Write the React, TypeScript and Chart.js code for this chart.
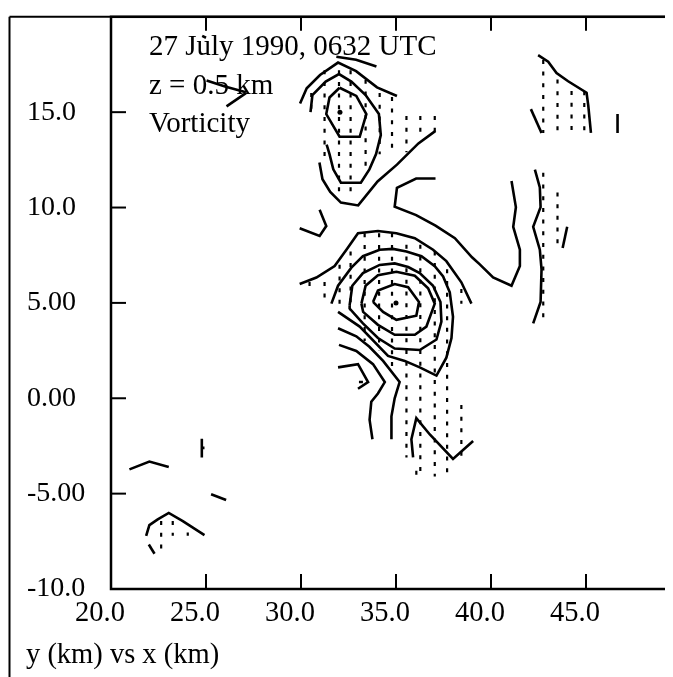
import { useEffect, useRef } from 'react';
import { Chart, registerables } from 'chart.js';

Chart.register(...registerables);

type Pt = [number, number];

// Axis ticks
const xTickValues = [20, 25, 30, 35, 40, 45];
const xTickLabels = ['20.0', '25.0', '30.0', '35.0', '40.0', '45.0'];
const yTickValues = [-10, -5, 0, 5, 10, 15];
const yTickLabels = ['-10.0', '-5.00', '0.00', '5.00', '10.0', '15.0'];

const titleLines = ['27 July 1990, 0632 UTC', 'z = 0.5 km', 'Vorticity'];
const axisCaption = 'y (km) vs x (km)';

// Northern vortex contours (x km, y km)
const northCore: Pt[] = [[32.03, 16.28], [32.91, 15.85], [33.44, 14.9], [33.09, 13.71], [32.03, 13.71], [31.33, 14.9], [31.5, 15.77], [32.03, 16.28]];
const northRing: Pt[] = [[30.5, 15.0], [30.6, 15.9], [31.3, 16.6], [32.0, 17.0], [32.65, 16.6], [33.4, 15.9], [34.1, 14.9], [34.2, 13.8], [33.95, 12.8], [33.6, 12.0], [33.15, 11.3], [32.1, 11.3], [31.7, 12.0], [31.5, 12.8], [31.35, 13.3]];
const northOuter: Pt[] = [[29.95, 15.45], [30.3, 16.25], [31.0, 16.95], [31.95, 17.6], [32.9, 17.15], [34.0, 16.3], [35.05, 15.85]];
const northSlash: Pt[] = [[31.86, 17.91], [32.9, 17.75], [33.97, 17.39]];
const northTrough: Pt[] = [[30.97, 12.36], [31.13, 11.48], [31.54, 10.82], [32.1, 10.26], [33.01, 10.11], [34.03, 11.37], [35.05, 12.25], [36.18, 13.36], [37.08, 14.02]];

// Saddle between the two vortices
const saddle: Pt[] = [[37.08, 11.52], [36.06, 11.52], [35.05, 11.03], [34.93, 10.04], [36.06, 9.6], [37.08, 9.05], [38.1, 8.39], [39.0, 7.39], [39.41, 7.02], [40.11, 6.33], [41.08, 5.9], [41.52, 6.93], [41.52, 7.79], [41.17, 8.99], [41.31, 10.02], [41.08, 11.39]];
const westHook: Pt[] = [[29.93, 8.91], [30.98, 8.51], [31.33, 9.03], [30.98, 9.88]];

// Central vortex
const coreRing1: Pt[] = [[33.79, 5.05], [34.05, 5.65], [34.93, 5.99], [35.64, 5.82], [36.21, 5.05], [36.07, 4.33], [35.02, 4.11], [34.32, 4.53], [33.79, 5.05]];
const coreRing2: Pt[] = [[33.18, 4.96], [33.4, 5.9], [34.05, 6.45], [35.02, 6.63], [35.99, 6.42], [36.69, 5.77], [37.04, 4.96], [36.6, 3.76], [35.99, 3.33], [34.93, 3.33], [34.05, 3.85], [33.27, 4.53], [33.18, 4.96]];
const coreRing3: Pt[] = [[32.56, 4.88], [32.7, 5.9], [33.26, 6.56], [34.14, 6.99], [34.93, 7.07], [35.64, 6.88], [36.25, 6.56], [36.95, 5.9], [37.34, 5.05], [37.39, 4.02], [37.13, 3.08], [36.25, 2.53], [34.93, 2.61], [34.05, 3.16], [33.26, 3.93], [32.56, 4.7], [32.56, 4.88]];
const coreRing4: Pt[] = [[31.6, 4.96], [31.95, 5.9], [32.65, 6.85], [33.26, 7.45], [34.14, 7.79], [34.84, 7.83], [35.55, 7.7], [36.34, 7.45], [37.04, 6.93], [37.48, 6.39], [37.83, 5.56], [38.0, 4.27], [37.92, 3.16], [37.65, 2.13], [37.13, 1.19], [36.25, 1.62], [35.46, 1.96], [34.58, 2.22], [33.09, 3.76], [31.95, 4.53]];
const coreOuter: Pt[] = [[29.93, 5.99], [30.81, 6.33], [31.77, 6.93], [32.39, 7.79], [33.0, 8.65], [34.05, 8.77], [35.02, 8.65], [35.99, 8.39], [36.95, 7.79], [37.65, 7.19], [38.44, 6.08], [38.97, 4.96]];

// Southern arms
const southArmA: Pt[] = [[32.0, 2.8], [32.91, 2.48], [33.79, 1.79], [34.41, 0.85], [34.05, 0.25], [33.7, -0.18], [33.61, -1.13], [33.76, -2.15]];
const southArmB: Pt[] = [[31.95, 3.67], [32.91, 3.25], [33.6, 2.7], [34.32, 1.96], [35.19, 0.85], [34.93, 0.0], [34.76, -0.95], [34.76, -2.15]];
const southHook: Pt[] = [[31.95, 1.62], [33.0, 1.79], [33.53, 0.85], [33.0, 0.5]];
const southTick: Pt[] = [[33.05, 0.85], [33.26, 0.85]];
const southVee: Pt[] = [[35.9, -3.1], [35.81, -2.15], [36.07, -1.04], [36.78, -1.9], [38.0, -3.18], [39.06, -2.24]];

// Eastern contours
const eastCap: Pt[] = [[42.48, 17.99], [43.01, 17.65], [43.45, 17.05], [44.06, 16.62], [45.03, 16.02], [45.12, 15.34], [45.26, 13.91]];
const eastCapLeft: Pt[] = [[42.1, 15.16], [42.66, 13.91]];
const eastStub: Pt[] = [[46.66, 14.9], [46.66, 13.91]];
const eastRidge: Pt[] = [[42.31, 11.99], [42.57, 11.05], [42.61, 10.02], [42.22, 8.99], [42.57, 7.79], [42.66, 6.76], [42.61, 5.05], [42.22, 3.93]];
const eastTick: Pt[] = [[44.01, 8.99], [43.77, 7.88]];

// South-west and north-west fragments
const swA: Pt[] = [[20.97, -3.73], [22.02, -3.32], [23.04, -3.61]];
const swB: Pt[] = [[24.78, -2.12], [24.78, -3.1]];
const swBTick: Pt[] = [[24.78, -2.6], [24.92, -2.6]];
const swC: Pt[] = [[25.27, -5.03], [26.06, -5.33]];
const swD: Pt[] = [[21.85, -7.21], [22.02, -6.65], [22.46, -6.35], [23.04, -6.01], [23.78, -6.44], [24.92, -7.18]];
const swE: Pt[] = [[21.99, -7.67], [22.29, -8.15]];
const nwDash: Pt[] = [[24.8, 19.0], [25.0, 18.9]];
const nwA: Pt[] = [[25.03, 16.66], [26.0, 16.35], [27.1, 16.05]];
const nwB: Pt[] = [[26.08, 15.3], [27.1, 16.0]];

const contours: Pt[][] = [
  northCore, northRing, northOuter, northSlash, northTrough,
  saddle, westHook,
  coreRing1, coreRing2, coreRing3, coreRing4, coreOuter,
  southArmA, southArmB, southHook, southTick, southVee,
  eastCap, eastCapLeft, eastStub, eastRidge, eastTick,
  swA, swB, swBTick, swC, swD, swE, nwDash, nwA, nwB,
];

// Vorticity maxima
const peaks: Pt[] = [[32.05, 15.0], [35.0, 5.0]];

// Hatched (dotted) columns: [x, top y, bottom y]
const hatchNorth: [number, number, number][] = [
  [30.54, 16.0, 15.0], [31.24, 17.2, 12.5], [32.0, 17.2, 10.6], [32.61, 17.2, 10.6], [33.4, 16.7, 11.9],
  [34.14, 16.0, 12.8], [34.79, 15.8, 13.0], [35.55, 14.8, 12.9], [36.28, 14.8, 13.6], [37.04, 14.8, 14.0],
];
const hatchEast: [number, number, number][] = [
  [42.75, 17.74, 13.91], [43.5, 16.71, 13.91], [44.24, 16.11, 13.91], [44.91, 16.1, 13.91],
  [42.75, 11.82, 3.93], [43.5, 10.79, 7.88],
];
const hatchCentral: [number, number, number][] = [
  [30.45, 6.1, 5.5], [31.24, 6.1, 4.9], [32.03, 7.0, 4.95], [32.61, 7.7, 4.6], [33.35, 8.65, 3.0],
  [34.11, 8.65, 2.5], [34.79, 8.65, 1.5], [35.55, 8.05, -3.1], [36.28, 8.05, -4.1], [36.07, -3.8, -4.1],
  [37.04, 7.7, -4.1], [37.69, 6.76, -4.1], [38.44, 5.73, 4.96], [38.44, -0.35, -3.1],
];
const hatchSouthWest: [number, number, number][] = [
  [22.64, -6.44, -8.15], [23.25, -6.44, -7.21], [24.04, -7.04, -7.21],
];

const FONT = '"Liberation Serif", "Times New Roman", serif';

const framePlugin = {
  id: 'frameAndText',
  beforeDatasetsDraw(chart: any) {
    const { ctx } = chart;
    ctx.save();
    ctx.fillStyle = '#000';
    ctx.font = `29px ${FONT}`;
    ctx.textAlign = 'left';
    ctx.textBaseline = 'alphabetic';
    titleLines.forEach((t, i) => ctx.fillText(t, 149, 55 + i * 38.5));
    ctx.font = `28.5px ${FONT}`;
    ctx.fillText(axisCaption, 26, 663);
    ctx.restore();
  },
  afterDraw(chart: any) {
    const { ctx, chartArea: a, scales } = chart;
    const xs = scales.x;
    const ys = scales.y;
    const seg = (x1: number, y1: number, x2: number, y2: number) => {
      ctx.beginPath();
      ctx.moveTo(x1, y1);
      ctx.lineTo(x2, y2);
      ctx.stroke();
    };
    ctx.save();
    ctx.strokeStyle = '#000';
    ctx.lineCap = 'butt';
    // page frame
    ctx.lineWidth = 2;
    seg(9.5, 677, 9.5, a.top);
    seg(9.5, a.top, 700, a.top);
    // plot box
    ctx.lineWidth = 2.5;
    ctx.strokeRect(a.left, a.top, a.right - a.left, a.bottom - a.top);
    // inward ticks
    ctx.lineWidth = 2;
    for (const v of xTickValues) {
      const px = xs.getPixelForValue(v);
      seg(px, a.bottom, px, a.bottom - 15);
      seg(px, a.top, px, a.top + 14);
    }
    for (const v of yTickValues) {
      const py = ys.getPixelForValue(v);
      seg(a.left, py, a.left + 15, py);
      seg(a.right, py, a.right - 14, py);
    }
    ctx.restore();
  },
};

export default function App() {
  const canvasRef = useRef<HTMLCanvasElement | null>(null);

  useEffect(() => {
    document.documentElement.style.overflow = 'hidden';
    const canvas = canvasRef.current;
    if (!canvas) return;

    const lineSets = contours.map((pts) => ({
      data: pts.map(([x, y]) => ({ x, y })),
      showLine: true,
      borderColor: '#000',
      borderWidth: 2.6,
      pointRadius: 0,
      tension: 0,
      fill: false,
    }));
    const hatchSets = [...hatchNorth, ...hatchEast, ...hatchCentral, ...hatchSouthWest].map(([x, y0, y1]) => ({
      data: [{ x, y: y0 }, { x, y: y1 }],
      showLine: true,
      borderColor: '#000',
      borderWidth: 2.2,
      borderDash: [4, 7.7],
      borderCapStyle: 'butt' as const,
      pointRadius: 0,
      fill: false,
    }));
    const peakSet = {
      data: peaks.map(([x, y]) => ({ x, y })),
      showLine: false,
      pointRadius: 2.5,
      pointBackgroundColor: '#000',
      pointBorderWidth: 0,
    };

    const chart = new Chart(canvas, {
      type: 'scatter',
      data: { datasets: [...lineSets, ...hatchSets, peakSet] as any },
      options: {
        animation: false,
        responsive: false,
        devicePixelRatio: 1,
        layout: { padding: { left: 27, top: 6, right: 19, bottom: 0 } },
        plugins: { legend: { display: false }, tooltip: { enabled: false } },
        scales: {
          x: {
            type: 'linear',
            min: 20,
            max: 50,
            position: 'bottom',
            grid: { display: false, drawTicks: false },
            border: { display: false },
            afterBuildTicks: (s: any) => {
              s.ticks = xTickValues.map((v) => ({ value: v }));
            },
            afterFit: (s: any) => {
              s.height = 88;
            },
            ticks: {
              callback: (_v: any, i: number) => xTickLabels[i],
              font: { family: FONT, size: 28.5 },
              color: '#000',
              padding: 7,
              labelOffset: -11,
              maxRotation: 0,
              autoSkip: false,
            },
          },
          y: {
            type: 'linear',
            min: -10,
            max: 20,
            position: 'left',
            grid: { display: false, drawTicks: false },
            border: { display: false },
            afterBuildTicks: (s: any) => {
              s.ticks = yTickValues.map((v) => ({ value: v }));
            },
            afterFit: (s: any) => {
              s.width = 84;
            },
            ticks: {
              callback: (_v: any, i: number) => yTickLabels[i],
              font: { family: FONT, size: 28 },
              color: '#000',
              padding: 0,
              crossAlign: 'far',
              autoSkip: false,
            },
          },
        },
      },
      plugins: [framePlugin],
    });

    return () => chart.destroy();
  }, []);

  return (
    <div style={{ position: 'relative', width: 665, height: 669 }}>
      <canvas
        ref={canvasRef}
        width={700}
        height={677}
        style={{ position: 'absolute', left: -8, top: -8, display: 'block' }}
      />
    </div>
  );
}
